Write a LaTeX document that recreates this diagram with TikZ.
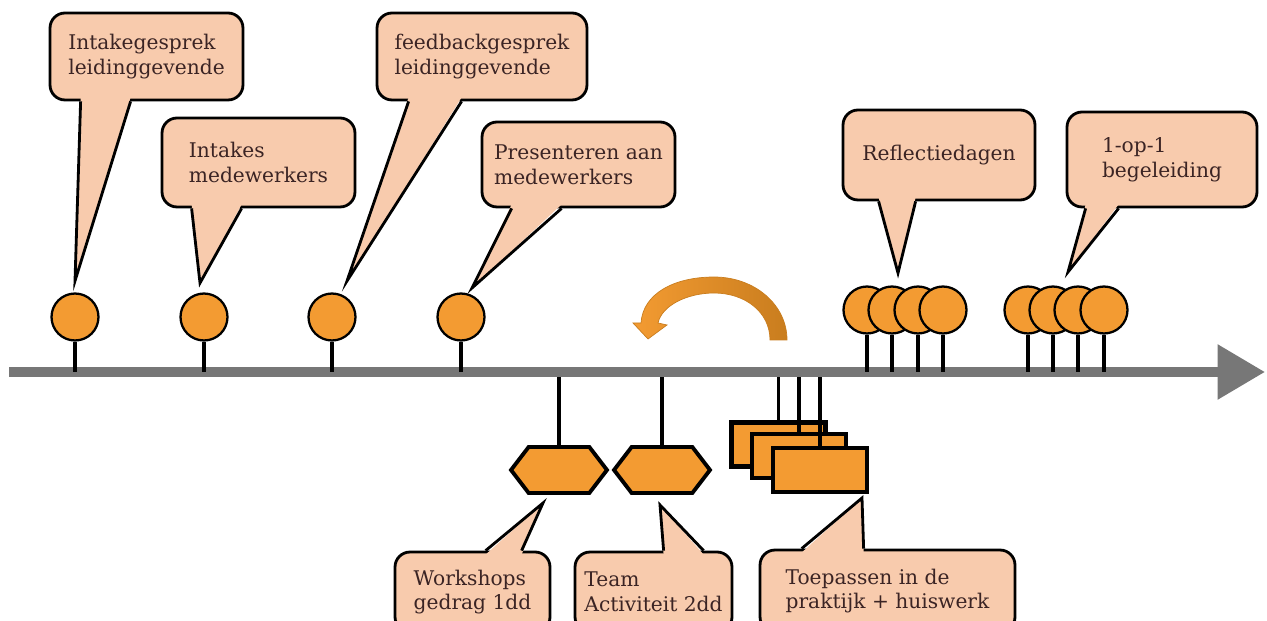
\documentclass[tikz,border=0pt]{standalone}
\usepackage{fontspec}
\setmainfont{DejaVu Serif}
\usetikzlibrary{arrows.meta,shapes.symbols,calc}

\definecolor{pinorange}{HTML}{F39B32}
\definecolor{bubblefill}{HTML}{F8CBAD}
\definecolor{axisgray}{HTML}{777777}
\definecolor{inkbrown}{HTML}{3B2424}
\definecolor{swooshdark}{HTML}{C97D1E}

\tikzset{
  milestone/.style={circle, draw=black, line width=1.3pt, fill=pinorange, minimum size=0.94cm, inner sep=0pt},
  stemline/.style={line width=2.2pt},
  bubble/.style={draw=black, line width=1.6pt, fill=bubblefill, rounded corners=0.3cm, text=inkbrown, align=left, font=\fontsize{11.5}{14}\selectfont, inner sep=0pt},
  bubbletail/.style={fill=bubblefill},
  tailedge/.style={line width=1.6pt, line join=miter},
  hexbox/.style={signal, signal to=east and west, signal pointer angle=105, draw=black, line width=2.2pt, fill=pinorange, minimum width=1.92cm, minimum height=0.92cm, inner sep=0pt},
  taskbox/.style={rectangle, draw=black, line width=2.4pt, fill=pinorange, minimum width=1.88cm, minimum height=0.88cm, inner sep=0pt},
}

\begin{document}
\begin{tikzpicture}[x=0.02cm, y=-0.02cm]
  \useasboundingbox (0,0) rectangle (1267,621);
  \clip (0,0) rectangle (1267,621);

  % time axis
  \coordinate (axis) at (9,372);
  \coordinate (axisend) at (1265,372);
  \coordinate (axislow) at (9,377);
  \draw[axisgray, line width=5.7pt, -{Triangle[length=27pt,width=30pt]}] (axis) -- (axisend);

  % milestones above the axis
  \node[milestone] (p1) at (75,317) {};
  \node[milestone] (p2) at (204,317) {};
  \node[milestone] (p3) at (332,317) {};
  \node[milestone] (p4) at (461,317) {};
  \foreach \x [count=\i] in {867,892,918,943}
    \node[milestone] (r\i) at (\x,310) {};
  \foreach \x [count=\i] in {1028,1053,1078,1104}
    \node[milestone] (b\i) at (\x,310) {};
  \foreach \n in {p1,p2,p3,p4,r1,r2,r3,r4,b1,b2,b3,b4}
    \draw[stemline] (\n.south) -- (\n.south |- axis);

  % activities below the axis
  \node[hexbox] (h1) at (559,470) {};
  \node[hexbox] (h2) at (662,470) {};
  \draw[stemline] (h1.north |- axislow) -- (h1.north);
  \draw[stemline] (h2.north |- axislow) -- (h2.north);
  \node[taskbox] (t1) at (778.5,444.5) {};
  \node[taskbox] (t2) at (799,456) {};
  \node[taskbox] (t3) at (820,470) {};
  \foreach \n in {t1,t2,t3}
    \draw[stemline] (\n.north |- axislow) -- (\n.north);

  % return arrow
  \draw[swooshdark, line width=0.4pt, left color=pinorange, right color=swooshdark]
    (641,323) .. controls (643,293) and (675,277) .. (714,277)
    .. controls (755,277) and (787,305) .. (787,340) -- (770,340)
    .. controls (770,312) and (745,293) .. (714,293)
    .. controls (688,293) and (662,305) .. (658,323)
    -- (667,325) -- (648,339) -- (633,323) -- cycle;

  % callouts
  \node[bubble, minimum width=3.86cm, minimum height=1.74cm] (c1) at (146.5,56.5) {Intakegesprek\\leidinggevende};
  \node[bubble, minimum width=3.86cm, minimum height=1.78cm] (c2) at (258.5,162.5) {Intakes\\medewerkers};
  \node[bubble, minimum width=4.2cm, minimum height=1.74cm] (c3) at (482,56.5) {feedbackgesprek\\leidinggevende};
  \node[bubble, minimum width=3.86cm, minimum height=1.7cm] (c4) at (578.5,164.5) {Presenteren aan\\medewerkers};
  \node[bubble, minimum width=3.84cm, minimum height=1.8cm] (c5) at (939,155) {Reflectiedagen};
  \node[bubble, minimum width=3.8cm, minimum height=1.9cm] (c6) at (1162,159.5) {1-op-1\\begeleiding};
  \node[bubble, minimum width=3.1cm, minimum height=1.6cm] (c7) at (472.5,592) {Workshops\\gedrag 1dd};
  \node[bubble, minimum width=3.14cm, minimum height=1.6cm] (c8) at (653.5,592) {Team\\Activiteit 2dd};
  \node[bubble, minimum width=5.1cm, minimum height=1.64cm] (c9) at (887.5,591) {Toepassen in de\\praktijk + huiswerk};

  \foreach \c/\a/\b/\tx/\ty in {c1/32/82/75/281, c2/31/81/200/283, c3/33/86/347/281,
      c4/31/81/472/288, c5/37/74/898/273, c6/20/53/1068/272} {
    \fill[bubbletail] ($(\c.south west)+(\a,-4)$) -- (\tx,\ty) -- ($(\c.south west)+(\b,-4)$) -- cycle;
    \draw[tailedge] ($(\c.south west)+(\a,0)$) -- (\tx,\ty) -- ($(\c.south west)+(\b,0)$);
  }
  \foreach \c/\a/\b/\tx/\ty in {c7/92/128/543/503, c8/90/130/660/505, c9/43/105/862/498} {
    \fill[bubbletail] ($(\c.north west)+(\a,4)$) -- (\tx,\ty) -- ($(\c.north west)+(\b,4)$) -- cycle;
    \draw[tailedge] ($(\c.north west)+(\a,0)$) -- (\tx,\ty) -- ($(\c.north west)+(\b,0)$);
  }
\end{tikzpicture}
\end{document}
